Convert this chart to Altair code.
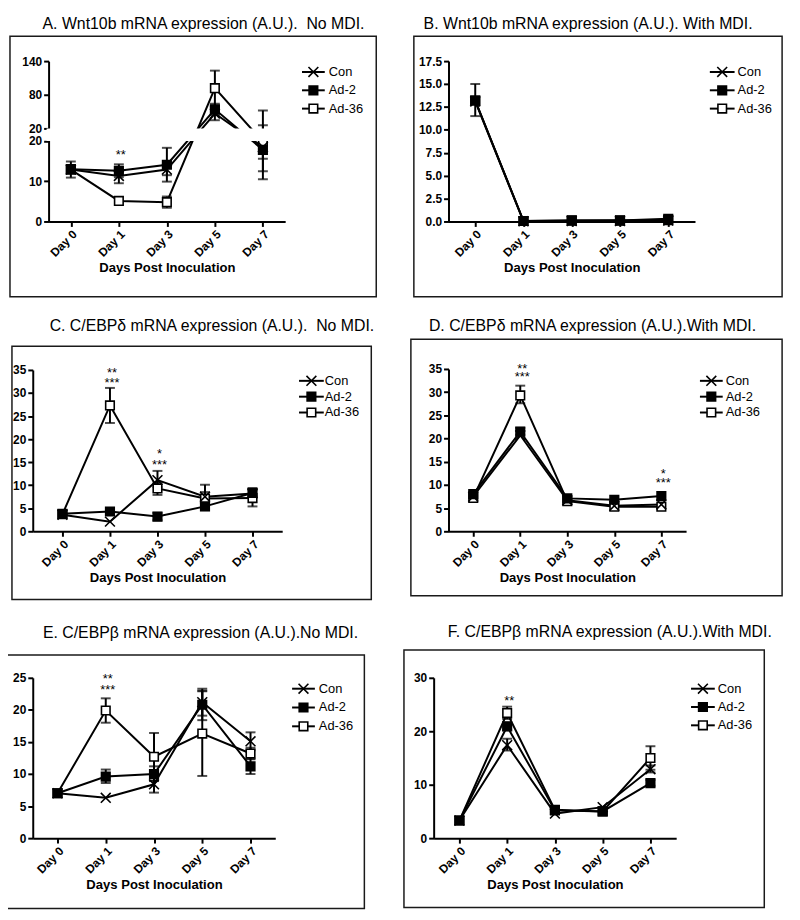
import altair as alt
import pandas as pd

DAYS = ["Day 0", "Day 1", "Day 3", "Day 5", "Day 7"]
SERIES = ["Con", "Ad-2", "Ad-36"]
X_TITLE = "Days Post Inoculation"

# ---- Panel A: Wnt10b, no MDI (broken y axis) ----
A_TITLE = "A. Wnt10b mRNA expression (A.U.).\u00a0 No MDI."
A_CON = [12.9, 11.3, 12.9, 46.5, 18.5]
A_CON_LO = [None, 9.5, 11.5, 34.6, 12.5]
A_CON_HI = [None, 12.9, 14.3, 58.0, 25.8]
A_AD2 = [13.0, 12.6, 14.1, 54.0, 17.8]
A_AD2_LO = [10.9, 11.0, 9.9, 44.0, 15.6]
A_AD2_HI = [14.9, 14.2, 18.3, 64.0, 20.0]
A_AD36 = [12.9, 5.1, 4.8, 91.8, 19.8]
A_AD36_LO = [None, None, 3.4, 60.0, 10.5]
A_AD36_HI = [None, None, 6.2, 123.0, 52.0]
A_SIG_DAY = ["Day 1"]
A_SIG_Y = [17.2]
A_SIG_TEXT = ["**"]
A_TICKS = [0, 10, 20, 20.0001, 80, 140]

# ---- Panel B: Wnt10b, with MDI ----
B_TITLE = "B. Wnt10b mRNA expression (A.U.). With MDI."
B_CON = [13.1, 0.02, 0.05, 0.05, 0.1]
B_CON_LO = [None, None, None, None, None]
B_CON_HI = [None, None, None, None, None]
B_AD2 = [13.2, 0.05, 0.1, 0.1, 0.15]
B_AD2_LO = [11.5, None, None, None, None]
B_AD2_HI = [15.0, None, None, None, None]
B_AD36 = [13.2, 0.05, 0.12, 0.12, 0.3]
B_AD36_LO = [None, None, None, None, None]
B_AD36_HI = [None, None, None, None, None]
B_SIG_DAY = []
B_SIG_Y = []
B_SIG_TEXT = []
B_TICKS = [0, 2.5, 5, 7.5, 10, 12.5, 15, 17.5]

# ---- Panel C: C/EBPdelta, no MDI ----
C_TITLE = "C. C/EBPδ mRNA expression (A.U.).\u00a0 No MDI."
C_CON = [3.6, 2.1, 11.1, 7.5, 8.2]
C_CON_LO = [None, None, 9.6, 6.5, 7.5]
C_CON_HI = [None, None, 13.1, 8.5, 9.4]
C_AD2 = [3.8, 4.3, 3.2, 5.4, 8.3]
C_AD2_LO = [None, 3.6, 2.4, 4.6, None]
C_AD2_HI = [None, 5.0, 4.0, 6.2, None]
C_AD36 = [3.7, 27.3, 9.3, 7.1, 7.2]
C_AD36_LO = [None, 23.5, 7.9, 5.9, 5.4]
C_AD36_HI = [None, 31.1, 10.6, 10.1, 9.0]
C_SIG_DAY = ["Day 1", "Day 1", "Day 3", "Day 3"]
C_SIG_Y = [35.0, 32.9, 17.5, 15.0]
C_SIG_TEXT = ["**", "***", "*", "***"]
C_TICKS = [0, 5, 10, 15, 20, 25, 30, 35]

# ---- Panel D: C/EBPdelta, with MDI ----
D_TITLE = "D. C/EBPδ mRNA expression (A.U.).With MDI."
D_CON = [7.5, 20.7, 6.7, 5.5, 5.8]
D_CON_LO = [None, None, None, None, None]
D_CON_HI = [None, None, None, None, None]
D_AD2 = [8.0, 21.5, 7.1, 6.8, 7.6]
D_AD2_LO = [None, 20.8, None, None, None]
D_AD2_HI = [None, 22.3, None, None, None]
D_AD36 = [7.2, 29.3, 6.5, 5.3, 5.3]
D_AD36_LO = [None, 27.6, None, None, None]
D_AD36_HI = [None, 31.4, None, None, None]
D_SIG_DAY = ["Day 1", "Day 1", "Day 7", "Day 7"]
D_SIG_Y = [35.6, 34.0, 12.9, 11.1]
D_SIG_TEXT = ["**", "***", "*", "***"]
D_TICKS = [0, 5, 10, 15, 20, 25, 30, 35]

# ---- Panel E: C/EBPbeta, no MDI ----
E_TITLE = "E. C/EBPβ mRNA expression (A.U.).No MDI."
E_CON = [7.0, 6.3, 8.4, 21.2, 15.1]
E_CON_LO = [None, None, 7.1, 19.1, 13.7]
E_CON_HI = [None, None, 9.7, 23.3, 16.5]
E_AD2 = [7.0, 9.6, 10.0, 20.8, 11.2]
E_AD2_LO = [None, 8.6, 8.9, 18.4, 10.0]
E_AD2_HI = [None, 10.7, 11.2, 23.0, 12.4]
E_AD36 = [7.0, 19.9, 12.7, 16.3, 13.2]
E_AD36_LO = [None, 18.0, 9.0, 9.7, 12.3]
E_AD36_HI = [None, 21.8, 16.4, 22.9, 14.1]
E_SIG_DAY = ["Day 1", "Day 1"]
E_SIG_Y = [25.2, 23.6]
E_SIG_TEXT = ["**", "***"]
E_TICKS = [0, 5, 10, 15, 20, 25]

# ---- Panel F: C/EBPbeta, with MDI ----
F_TITLE = "F. C/EBPβ mRNA expression (A.U.).With MDI."
F_CON = [3.3, 17.4, 4.6, 5.8, 12.9]
F_CON_LO = [None, 16.4, None, None, 12.3]
F_CON_HI = [None, 18.6, None, None, 13.6]
F_AD2 = [3.3, 20.9, 5.2, 5.0, 10.3]
F_AD2_LO = [None, 20.2, None, None, 9.8]
F_AD2_HI = [None, 21.6, None, None, 10.9]
F_AD36 = [3.3, 23.4, 5.3, 5.0, 15.0]
F_AD36_LO = [None, 22.3, None, None, 12.8]
F_AD36_HI = [None, 24.6, None, None, 17.2]
F_SIG_DAY = ["Day 1"]
F_SIG_Y = [26.3]
F_SIG_TEXT = ["**"]
F_TICKS = [0, 10, 20, 30]

FONT = "Liberation Sans"
CROSS = "M-1.15,-1.15L1.15,1.15M-1.15,1.15L1.15,-1.15"
SHAPE_SCALE = alt.Scale(domain=SERIES, range=[CROSS, "square", "square"])
FILL_SCALE = alt.Scale(domain=SERIES, range=["black", "black", "white"])

O = 8                      # page margin: layout below is given in page pixels
TOT_W, TOT_H = 792, 910


def make_df(con, con_lo, con_hi, ad2, ad2_lo, ad2_hi, ad36, ad36_lo, ad36_hi):
    groups = {"Con": (con, con_lo, con_hi), "Ad-2": (ad2, ad2_lo, ad2_hi),
              "Ad-36": (ad36, ad36_lo, ad36_hi)}
    rows = []
    for s in ["Ad-36", "Con", "Ad-2"]:
        m, lo, hi = groups[s]
        for i, d in enumerate(DAYS):
            rows.append(dict(day=d, idx=i, series=s, mean=m[i], lo=lo[i], hi=hi[i]))
    return pd.DataFrame(rows)


def panel(df, sig_day, sig_y, sig_text, ticks, title, cfg):
    xa, xb = cfg["x_axis"]
    yr = cfg["y_range"]
    xenc = alt.X("day:O",
                 scale=alt.Scale(type="point", domain=DAYS, padding=cfg["pad"], range=[xa - O, xb - O]),
                 axis=alt.Axis(title=X_TITLE, labelAngle=-45, titlePadding=3, orient="bottom",
                               offset=(yr[0] - O) - TOT_H))
    yscale = alt.Scale(domain=cfg["ydomain"], range=[v - O for v in yr], nice=False, zero=False)
    yaxis = alt.Axis(values=ticks, format=cfg["fmt"], title=None, labelOverlap=False, orient="left",
                     offset=-(xa - O))

    def Y(field):
        return alt.Y(field, scale=yscale, axis=yaxis)

    base = alt.Chart(df)
    lines = base.mark_line(color="black", strokeWidth=2).encode(
        x=xenc, y=Y("mean:Q"), detail="series:N", order="idx:Q")
    err = base.transform_filter("isValid(datum.lo) && isValid(datum.hi)")
    rules = err.mark_rule(color="black", strokeWidth=2).encode(x=xenc, y=Y("lo:Q"), y2="hi:Q")
    cap_lo = err.mark_tick(color="black", thickness=2, size=10, orient="horizontal").encode(
        x=xenc, y=Y("lo:Q"))
    cap_hi = err.mark_tick(color="black", thickness=2, size=10, orient="horizontal").encode(
        x=xenc, y=Y("hi:Q"))
    points = base.mark_point(opacity=1, size=75, strokeWidth=1.6, stroke="black").encode(
        x=xenc, y=Y("mean:Q"),
        shape=alt.Shape("series:N", scale=SHAPE_SCALE, legend=None),
        fill=alt.Fill("series:N", scale=FILL_SCALE, legend=None))
    layers = [lines, rules, cap_lo, cap_hi, points]
    if cfg.get("gap"):
        g0, g1 = cfg["gap"]
        gap = alt.Chart(pd.DataFrame({"k": [0]})).mark_rect(color="white").encode(
            x=alt.value(xa - O - 2), x2=alt.value(xb - O + 2),
            y=alt.YDatum(g0, type="quantitative", scale=yscale, axis=yaxis),
            y2=alt.Y2Datum(g1))
        layers.append(gap)
    if sig_day:
        sig_df = pd.DataFrame({"day": sig_day, "val": sig_y, "txt": sig_text})
        sig = alt.Chart(sig_df).mark_text(font=FONT, fontSize=13, dx=2, dy=3, color="black").encode(
            x=xenc, y=Y("val:Q"), text="txt:N")
        layers.append(sig)
    data = alt.layer(*layers)

    one = pd.DataFrame({"k": [0]})
    leg_df = pd.DataFrame({"series": SERIES})
    lx0, lx1, ltx = cfg["leg_x"]
    ly0, ly1 = cfg["leg_y"]
    ly = alt.Y("series:N", scale=alt.Scale(type="point", domain=SERIES, range=[ly0 - O, ly1 - O], padding=0),
               axis=None)
    fx0, fy0, fx1, fy1 = cfg["frame"]
    frame = alt.Chart(one).mark_rect(
        fill="transparent", stroke="#1a1a1a", strokeWidth=1.5).encode(
        x=alt.value(fx0 - O), x2=alt.value(fx1 - O), y=alt.value(fy0 - O), y2=alt.value(fy1 - O))
    tx, ty = cfg["title_xy"]
    ttl = alt.Chart(one).mark_text(text=title, font=FONT, fontSize=16, align="center",
                                   baseline="alphabetic", color="black").encode(
        x=alt.value(tx - O), y=alt.value(ty - O))
    leg_rule = alt.Chart(leg_df).mark_rule(color="black", strokeWidth=2).encode(
        x=alt.value(lx0 - O), x2=alt.value(lx1 - O), y=ly)
    leg_pt = alt.Chart(leg_df).mark_point(opacity=1, size=75, strokeWidth=1.6, stroke="black").encode(
        x=alt.value((lx0 + lx1) / 2 - O), y=ly,
        shape=alt.Shape("series:N", scale=SHAPE_SCALE, legend=None),
        fill=alt.Fill("series:N", scale=FILL_SCALE, legend=None))
    leg_txt = alt.Chart(leg_df).mark_text(font=FONT, fontSize=13, align="left", baseline="middle",
                                          color="black").encode(
        x=alt.value(ltx - O), y=ly, text="series:N")
    leg = alt.layer(frame, ttl, leg_rule, leg_pt, leg_txt)

    return alt.layer(leg, data).resolve_scale(y="independent")


pA = panel(make_df(A_CON, A_CON_LO, A_CON_HI, A_AD2, A_AD2_LO, A_AD2_HI, A_AD36, A_AD36_LO, A_AD36_HI),
           A_SIG_DAY, A_SIG_Y, A_SIG_TEXT, A_TICKS, A_TITLE,
           dict(x_axis=(49, 288), pad=0.464, ydomain=[0, 20, 20.0001, 140], y_range=[219, 137.7, 125, 57],
                fmt="d", gap=(20, 20.0001), leg_x=(305, 328, 332), leg_y=(68, 105),
                frame=(10, 32, 380, 295), title_xy=(205.5, 24.5)))
pB = panel(make_df(B_CON, B_CON_LO, B_CON_HI, B_AD2, B_AD2_LO, B_AD2_HI, B_AD36, B_AD36_LO, B_AD36_HI),
           B_SIG_DAY, B_SIG_Y, B_SIG_TEXT, B_TICKS, B_TITLE,
           dict(x_axis=(453, 702), pad=0.554, ydomain=[0, 17.5], y_range=[219, 57], fmt=".1f",
                leg_x=(717, 742, 745), leg_y=(68, 105),
                frame=(418, 32, 790, 295), title_xy=(594, 24.5)))
pC = panel(make_df(C_CON, C_CON_LO, C_CON_HI, C_AD2, C_AD2_LO, C_AD2_HI, C_AD36, C_AD36_LO, C_AD36_HI),
           C_SIG_DAY, C_SIG_Y, C_SIG_TEXT, C_TICKS, C_TITLE,
           dict(x_axis=(33, 285), pad=0.625, ydomain=[0, 35], y_range=[532, 369], fmt="d",
                leg_x=(302, 327, 328), leg_y=(380, 412),
                frame=(12, 345, 375, 601), title_xy=(214, 329.5)))
pD = panel(make_df(D_CON, D_CON_LO, D_CON_HI, D_AD2, D_AD2_LO, D_AD2_HI, D_AD36, D_AD36_LO, D_AD36_HI),
           D_SIG_DAY, D_SIG_Y, D_SIG_TEXT, D_TICKS, D_TITLE,
           dict(x_axis=(453, 693), pad=0.526, ydomain=[0, 35], y_range=[532, 368], fmt="d",
                leg_x=(707, 730, 733), leg_y=(380, 412),
                frame=(415, 338, 790, 597), title_xy=(598.5, 329.5)))
pE = panel(make_df(E_CON, E_CON_LO, E_CON_HI, E_AD2, E_AD2_LO, E_AD2_HI, E_AD36, E_AD36_LO, E_AD36_HI),
           E_SIG_DAY, E_SIG_Y, E_SIG_TEXT, E_TICKS, E_TITLE,
           dict(x_axis=(33, 278), pad=0.513, ydomain=[0, 25], y_range=[842, 680], fmt="d",
                leg_x=(295, 318, 322), leg_y=(691, 729),
                frame=(7, 657, 368, 913), title_xy=(202.5, 639.5)))
pF = panel(make_df(F_CON, F_CON_LO, F_CON_HI, F_AD2, F_AD2_LO, F_AD2_HI, F_AD36, F_AD36_LO, F_AD36_HI),
           F_SIG_DAY, F_SIG_Y, F_SIG_TEXT, F_TICKS, F_TITLE,
           dict(x_axis=(438, 683), pad=0.539, ydomain=[0, 30], y_range=[842, 680], fmt="d",
                leg_x=(698, 722, 725), leg_y=(691, 728),
                frame=(408, 652, 772, 912), title_xy=(616, 638.5)))

chart = alt.layer(pA, pB, pC, pD, pE, pF).resolve_scale(
    x="independent", y="independent"
).properties(
    width=TOT_W, height=TOT_H, padding=0, autosize=alt.AutoSizeParams(type="none")
).configure_view(strokeWidth=0).configure_axis(
    labelFont=FONT, labelFontSize=12, labelFontWeight="bold", labelColor="black",
    titleFont=FONT, titleFontSize=13.2, titleFontWeight="bold", titleColor="black",
    domainColor="black", domainWidth=2, tickColor="black", tickWidth=2, tickSize=5,
    labelPadding=2, grid=False)

chart.save("out.html", embed_options={"renderer": "svg", "actions": False})
